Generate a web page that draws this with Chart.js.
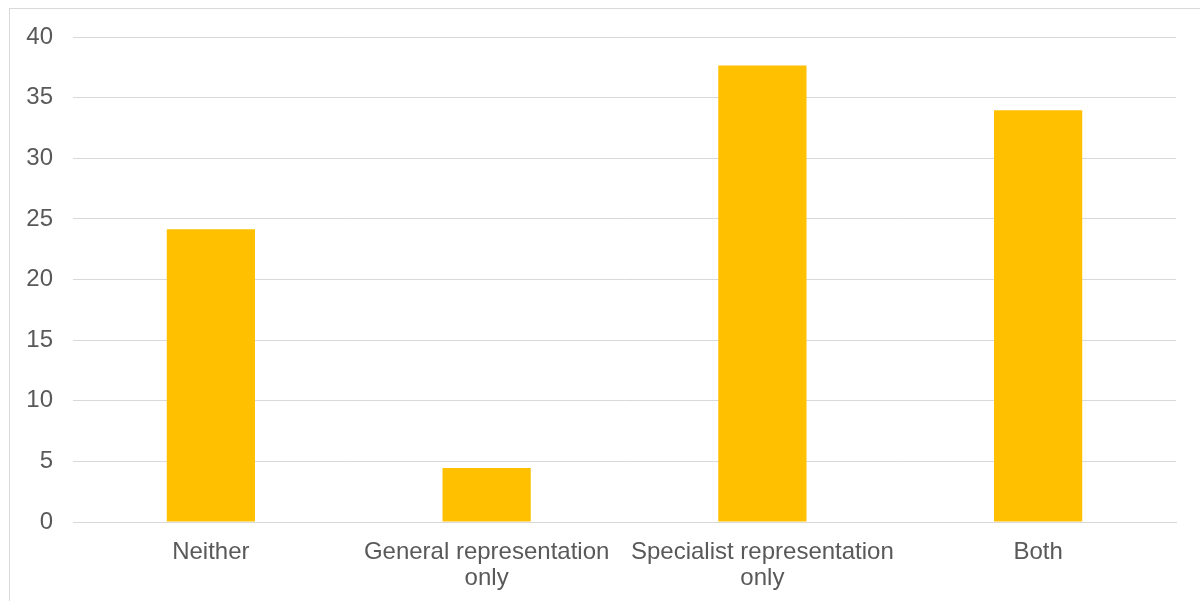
<!DOCTYPE html>
<html>
<head>
<meta charset="utf-8">
<script src="https://cdn.jsdelivr.net/npm/chart.js@4/dist/chart.umd.min.js"></script>
<style>
html,body{margin:0;padding:0;background:#fff;overflow:hidden;}
#wrap{position:absolute;left:0;top:0;width:1200px;height:601px;}
</style>
</head>
<body>
<div id="wrap"><canvas id="c" width="1200" height="601"></canvas></div>
<script>
const categories = [
  ["Neither"],
  ["General representation", "only"],
  ["Specialist representation", "only"],
  ["Both"]
];
const values = [24.15, 4.45, 37.65, 33.95];
const yTicks = [0, 5, 10, 15, 20, 25, 30, 35, 40];

const borderPlugin = {
  id: 'outerBorder',
  beforeDraw(chart) {
    const ctx = chart.ctx;
    ctx.save();
    ctx.fillStyle = '#fff';
    ctx.fillRect(0, 0, chart.width, chart.height);
    ctx.strokeStyle = '#d9d9d9';
    ctx.lineWidth = 1;
    ctx.strokeRect(9.5, 8.5, 1200, 620);
    ctx.restore();
  }
};

new Chart(document.getElementById('c'), {
  type: 'bar',
  data: {
    labels: categories,
    datasets: [{
      data: values,
      backgroundColor: '#FFC000',
      borderWidth: 0,
      categoryPercentage: 1,
      barPercentage: 0.32
    }]
  },
  options: {
    responsive: false,
    animation: false,
    devicePixelRatio: 1,
    layout: { padding: { top: 37, right: 24, left: 0, bottom: 0 } },
    plugins: { legend: { display: false }, tooltip: { enabled: false } },
    scales: {
      x: {
        grid: { display: false, drawTicks: false },
        border: { display: true, color: '#d9d9d9', width: 1 },
        ticks: {
          color: '#595959',
          font: { family: '"Liberation Sans", Arial, sans-serif', size: 24, lineHeight: 1.1 },
          padding: 17,
          maxRotation: 0,
          autoSkip: false
        },
        afterFit(scale) { scale.height = 79; }
      },
      y: {
        min: 0, max: 40,
        afterBuildTicks(scale) { scale.ticks = yTicks.map(v => ({ value: v })); },
        grid: { color: '#d9d9d9', lineWidth: 1, drawTicks: false },
        border: { display: false },
        ticks: {
          color: '#595959',
          font: { family: '"Liberation Sans", Arial, sans-serif', size: 24 },
          padding: 20
        },
        afterFit(scale) { scale.width = 73; }
      }
    }
  },
  plugins: [borderPlugin]
});
</script>
</body>
</html>
